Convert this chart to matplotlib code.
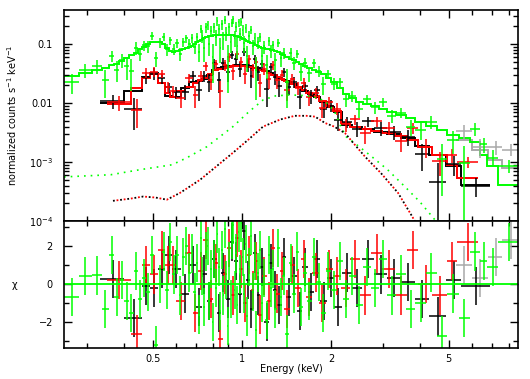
import matplotlib
matplotlib.use("Agg")
import matplotlib.pyplot as plt
import numpy as np

# ---- data (energies in keV) ----
black_edges = [0.33, 0.40, 0.46, 0.49, 0.52, 0.55, 0.58, 0.62, 0.66, 0.70,
               0.73, 0.76, 0.79, 0.82, 0.85, 0.88, 0.91, 0.94, 0.97, 1.00,
               1.03, 1.06, 1.09, 1.12, 1.15, 1.19, 1.23, 1.27, 1.31, 1.36,
               1.41, 1.47, 1.53, 1.60, 1.67, 1.75, 1.84, 1.94, 2.05, 2.18,
               2.35, 2.55, 2.80, 3.10, 3.45, 3.85, 4.3, 4.9, 5.5, 6.9]
black_model = [0.0100, 0.0160, 0.028, 0.033, 0.022, 0.013, 0.0125, 0.018, 0.023, 0.024,
               0.026, 0.030, 0.036, 0.039, 0.041, 0.042, 0.043, 0.044, 0.044, 0.044,
               0.043, 0.042, 0.040, 0.039, 0.037, 0.035, 0.032, 0.030, 0.027, 0.025,
               0.023, 0.021, 0.019, 0.016, 0.0145, 0.0125, 0.0103, 0.0085, 0.0072, 0.0042,
               0.0039, 0.0036, 0.0033, 0.0030, 0.0026, 0.0019, 0.0013, 0.00085, 0.00041]
black_chi = [0.28, -1.8, -0.1, -0.2, 0.8, 1.5, 0.8, -0.5, 1.0, -1.2,
             0.5, -0.9, 1.3, -1.5, 0.6, -0.8, 2.2, 1.2, -0.5, 2.8,
             0.2, -1.3, 1.6, -0.6, 0.9, -2.0, 1.1, -0.3, -1.1, 1.4,
             -0.7, 0.4, -1.4, 0.9, -0.4, 1.3, -0.9, 0.3, -1.2, 0.6,
             -0.2, 1.3, 0.5, 0.3, 0.1, -0.8, -1.7, 0.2, -0.1]
black_frac = [0.30, 0.28, 0.22, 0.22, 0.24, 0.28, 0.28, 0.25, 0.25, 0.25,
              0.25, 0.25, 0.25, 0.25, 0.25, 0.25, 0.25, 0.25, 0.25, 0.25,
              0.25, 0.25, 0.25, 0.25, 0.25, 0.25, 0.25, 0.25, 0.25, 0.25,
              0.24, 0.24, 0.24, 0.24, 0.24, 0.24, 0.24, 0.24, 0.24, 0.24,
              0.26, 0.28, 0.30, 0.30, 0.32, 0.35, 0.38, 0.40, 0.35]

red_edges = [0.35, 0.42, 0.46, 0.49, 0.52, 0.55, 0.57, 0.60, 0.64, 0.68,
             0.71, 0.74, 0.77, 0.80, 0.83, 0.86, 0.89, 0.92, 0.95, 0.98,
             1.01, 1.04, 1.07, 1.10, 1.13, 1.17, 1.21, 1.25, 1.29, 1.34,
             1.39, 1.45, 1.51, 1.58, 1.65, 1.73, 1.82, 1.92, 2.03, 2.16,
             2.32, 2.50, 2.72, 2.98, 3.28, 3.62, 3.95, 4.4, 4.95, 5.35, 6.3]
red_model = [0.0097, 0.018, 0.027, 0.031, 0.022, 0.015, 0.0128, 0.016, 0.019, 0.022,
             0.025, 0.027, 0.031, 0.036, 0.038, 0.040, 0.041, 0.042, 0.042, 0.042,
             0.042, 0.041, 0.040, 0.039, 0.037, 0.035, 0.033, 0.030, 0.028, 0.026,
             0.024, 0.021, 0.019, 0.017, 0.015, 0.013, 0.0108, 0.0088, 0.0074, 0.0046,
             0.0040, 0.0037, 0.0034, 0.0031, 0.0028, 0.0024, 0.0018, 0.0013, 0.0009, 0.00054]
red_chi = [0.2, -2.6, 1.0, 0.5, 1.8, 1.0, 1.0, -0.9, 1.6, -1.5,
           0.7, 2.3, -0.8, 1.1, -2.9, 0.5, 1.9, -0.6, 2.4, 0.8,
           -1.0, 1.5, -0.3, 1.2, -1.6, 0.4, -0.9, 1.9, -0.5, 0.7,
           -1.3, 1.0, -0.2, 1.3, -0.7, 0.6, -1.0, 0.8, 0.4, -0.2,
           1.3, -0.6, 1.6, 0.8, -0.6, 1.8, 0.0, -0.6, 1.2, 2.2]
red_frac = [0.30, 0.22, 0.22, 0.22, 0.24, 0.26, 0.26, 0.25, 0.25, 0.25,
            0.25, 0.25, 0.25, 0.25, 0.20, 0.25, 0.25, 0.25, 0.25, 0.25,
            0.25, 0.25, 0.25, 0.25, 0.25, 0.25, 0.25, 0.25, 0.25, 0.25,
            0.24, 0.24, 0.24, 0.24, 0.24, 0.24, 0.24, 0.24, 0.24, 0.24,
            0.26, 0.28, 0.28, 0.30, 0.30, 0.32, 0.35, 0.35, 0.40, 0.40]

green_edges = [0.25, 0.28, 0.31, 0.335, 0.355, 0.37, 0.385, 0.40, 0.415, 0.43,
               0.445, 0.46, 0.475, 0.49, 0.505, 0.52, 0.535, 0.55, 0.565, 0.58,
               0.595, 0.61, 0.625, 0.64, 0.655, 0.67, 0.685, 0.70, 0.71, 0.72,
               0.73, 0.74, 0.75, 0.76, 0.77, 0.78, 0.79, 0.80, 0.81, 0.82,
               0.83, 0.84, 0.85, 0.86, 0.87, 0.88, 0.89, 0.90, 0.91, 0.92,
               0.93, 0.94, 0.95, 0.96, 0.97, 0.98, 0.99, 1.00, 1.01, 1.02,
               1.035, 1.05, 1.065, 1.08, 1.095, 1.11, 1.125, 1.14, 1.16, 1.18,
               1.20, 1.22, 1.24, 1.26, 1.28, 1.31, 1.34, 1.37, 1.40, 1.44,
               1.48, 1.52, 1.56, 1.61, 1.66, 1.72, 1.78, 1.85, 1.92, 2.00,
               2.09, 2.19, 2.30, 2.42, 2.56, 2.72, 2.90, 3.10, 3.33, 3.58,
               3.86, 4.18, 4.55, 4.95, 5.4, 5.9, 6.4, 6.75, 7.35, 8.6]
green_model = [0.029, 0.033, 0.037, 0.040, 0.044, 0.047, 0.051, 0.058, 0.065, 0.072,
               0.082, 0.090, 0.100, 0.108, 0.111, 0.108, 0.100, 0.088, 0.078, 0.075,
               0.078, 0.080, 0.083, 0.087, 0.090, 0.094, 0.100, 0.108, 0.115, 0.120,
               0.125, 0.128, 0.131, 0.134, 0.136, 0.138, 0.140, 0.141, 0.142, 0.143,
               0.144, 0.144, 0.145, 0.145, 0.145, 0.145, 0.144, 0.144, 0.143, 0.142,
               0.141, 0.140, 0.138, 0.136, 0.134, 0.131, 0.128, 0.125, 0.122, 0.119,
               0.115, 0.111, 0.107, 0.103, 0.099, 0.096, 0.093, 0.090, 0.087, 0.085,
               0.083, 0.082, 0.081, 0.080, 0.077, 0.073, 0.069, 0.065, 0.061, 0.057,
               0.054, 0.050, 0.046, 0.043, 0.040, 0.037, 0.034, 0.031, 0.027, 0.023,
               0.018, 0.0145, 0.0122, 0.0105, 0.0097, 0.0090, 0.0080, 0.0071, 0.0062, 0.0055,
               0.0047, 0.0041, 0.0035, 0.0029, 0.0026, 0.0022, 0.0013, 0.00085, 0.00041]
green_chi = [-0.7, 0.4, 0.45, -1.3, 1.5, -0.7, 0.2, -0.9, -1.5, 0.7,
             -0.8, 0.3, -0.4, 1.5, -3.2, 0.0, 1.7, -0.3, 2.2, 0.5,
             1.5, -0.6, 1.4, 2.0, 0.6, 1.6, -0.4, 1.1, -1.6, 2.4,
             0.4, -1.2, 1.7, 2.0, -0.9, 0.8, -2.0, 1.3, -0.2, 2.6,
             0.9, -1.4, 1.8, -0.6, 2.9, 0.2, -2.2, 1.2, -0.8, 2.3,
             3.1, -0.3, 1.6, -1.1, 2.7, 0.5, 3.2, 1.4, -0.5, 2.1,
             -1.7, 0.9, 2.5, -0.4, 1.2, -2.4, 0.6, 1.8, -1.0, 0.3,
             -1.9, 1.5, -0.2, 0.8, -1.3, 1.9, -0.7, 0.4, -2.6, 1.1,
             -0.5, 1.7, -1.2, 0.6, -0.9, 1.4, 0.1, -1.5, 0.7, -0.3,
             1.2, -0.8, 0.4, -1.1, 0.9, -0.2, 1.3, -0.6, 0.5, -1.3,
             -1.0, 0.6, -2.7, -0.5, -1.8, 1.7, 1.2, 0.9, 2.2]
green_frac = [0.30, 0.30, 0.30, 0.30, 0.30, 0.30, 0.30, 0.30, 0.30, 0.30,
              0.20, 0.20, 0.20, 0.20, 0.15, 0.20, 0.20, 0.22, 0.22, 0.22,
              0.22, 0.22, 0.22, 0.22, 0.22, 0.22, 0.22, 0.22, 0.22, 0.22,
              0.28, 0.28, 0.28, 0.28, 0.28, 0.28, 0.28, 0.28, 0.28, 0.28,
              0.28, 0.28, 0.28, 0.28, 0.28, 0.28, 0.28, 0.28, 0.28, 0.28,
              0.28, 0.28, 0.28, 0.28, 0.28, 0.28, 0.28, 0.28, 0.28, 0.28,
              0.26, 0.26, 0.26, 0.26, 0.26, 0.26, 0.26, 0.26, 0.26, 0.26,
              0.24, 0.24, 0.24, 0.24, 0.24, 0.24, 0.24, 0.24, 0.24, 0.24,
              0.22, 0.22, 0.22, 0.22, 0.22, 0.22, 0.22, 0.22, 0.22, 0.22,
              0.22, 0.22, 0.22, 0.22, 0.22, 0.22, 0.22, 0.22, 0.22, 0.22,
              0.25, 0.28, 0.25, 0.35, 0.35, 0.40, 0.45, 0.45, 0.50]

grey_edges = [5.3, 6.0, 6.8, 7.6, 8.6]
grey_model = [0.0024, 0.0016, 0.0011, 0.0008]
grey_chi = [1.0, 0.3, 1.4, 2.3]
grey_frac = [0.40, 0.40, 0.45, 0.45]

# dotted model components
green_comp_e = [0.25, 0.36, 0.45, 0.58, 0.65, 0.76, 0.93, 1.05, 1.18, 1.30, 1.45, 1.60,
                1.75, 1.90, 2.05, 2.15, 2.25, 2.50, 2.75, 3.10, 3.56, 4.0, 4.39, 4.8]
green_comp = [5.6e-4, 6.1e-4, 7.4e-4, 9.0e-4, 1.18e-3, 1.82e-3, 3.97e-3, 7.0e-3, 1.14e-2,
              1.33e-2, 1.38e-2, 1.35e-2, 1.28e-2, 1.10e-2, 7.5e-3, 4.2e-3, 2.7e-3, 1.8e-3,
              1.23e-3, 7.5e-4, 3.8e-4, 2.1e-4, 1.2e-4, 7e-5]
bkrd_comp_e = [0.366, 0.42, 0.463, 0.51, 0.557, 0.617, 0.721, 0.82, 0.932, 1.05, 1.178,
               1.35, 1.51, 1.65, 1.766, 1.91, 2.05, 2.23, 2.40, 2.605, 2.95, 3.37, 3.76, 4.0]
bkrd_comp = [2.2e-4, 2.4e-4, 2.6e-4, 2.5e-4, 2.3e-4, 3.0e-4, 5.0e-4, 8.5e-4, 1.44e-3,
             2.4e-3, 4.0e-3, 5.3e-3, 6.1e-3, 6.1e-3, 5.9e-3, 4.6e-3, 4.0e-3, 3.1e-3,
             2.0e-3, 1.24e-3, 6.5e-4, 3.0e-4, 1.2e-4, 7e-5]

plt.rcParams['font.family'] = 'DejaVu Sans'
plt.rcParams['font.size'] = 7

fig = plt.figure(figsize=(5.30, 3.79), dpi=100)
ax1 = fig.add_axes([0.1208, 0.4169, 0.8566, 0.5567])
ax2 = fig.add_axes([0.1208, 0.0818, 0.8566, 0.3351], sharex=ax1)


def draw_set(edges, model, chi, frac, color):
    edges = np.array(edges)
    model = np.array(model)
    chi = np.array(chi)
    frac = np.array(frac)
    lo, hi = edges[:-1], edges[1:]
    cen = 0.5 * (lo + hi)
    err = model * frac
    data = model + chi * err
    low = np.where(data - err > 1e-6, err, data - 1e-6)
    ax1.errorbar(cen, data, xerr=[cen - lo, hi - cen], yerr=[low, err],
                 fmt='none', ecolor=color, elinewidth=1.1, capsize=0)
    ax1.stairs(model, edges, baseline=None, color=color, lw=1.4)
    ax2.errorbar(cen, chi, xerr=[cen - lo, hi - cen], yerr=1.0,
                 fmt='none', ecolor=color, elinewidth=1.1, capsize=0)


draw_set(grey_edges, grey_model, grey_chi, grey_frac, '#a8a8a8')
draw_set(black_edges, black_model, black_chi, black_frac, 'black')
draw_set(red_edges, red_model, red_chi, red_frac, '#ff0000')
draw_set(green_edges, green_model, green_chi, green_frac, '#00ff00')

ax1.plot(green_comp_e, green_comp, color='#00ff00', lw=1.2, ls=(0, (1, 3)))
ax1.plot(bkrd_comp_e, bkrd_comp, color='black', lw=1.3, ls=(0, (1, 3)))
ax1.plot(bkrd_comp_e, bkrd_comp, color='#ff0000', lw=1.3, ls=(2, (1, 3)))

ax2.axhline(0, color='#00ff00', lw=1.3)

ax1.set_xscale('log')
ax1.set_yscale('log')
ax1.set_xlim(0.25, 8.58)
ax1.set_ylim(1e-4, 0.381)
ax2.set_ylim(-3.35, 3.3)

ax1.set_xticks([0.5, 1, 2, 5])
ax1.set_xticks([0.3, 0.4, 0.6, 0.7, 0.8, 0.9, 3, 4, 6, 7, 8], minor=True)
ax2.set_xticklabels(['0.5', '1', '2', '5'])
ax2.set_xticklabels([], minor=True)
ax1.tick_params(labelbottom=False)

ax1.set_yticks([1e-4, 1e-3, 1e-2, 1e-1])
ax1.set_yticklabels(['10$^{-4}$', '10$^{-3}$', '0.01', '0.1'])
ax2.set_yticks([-2, 0, 2])
ax2.set_yticklabels(['\u22122', '0', '2'])
ax2.set_yticks([-3, -1, 1, 3], minor=True)

for ax in (ax1, ax2):
    ax.tick_params(which='both', direction='in', top=True, right=True, width=1.0)
    ax.tick_params(which='major', length=6)
    ax.tick_params(which='minor', length=3.5)
    ax.tick_params(axis='y', pad=8)
    ax.tick_params(axis='x', pad=4)
    for s in ax.spines.values():
        s.set_linewidth(1.2)

fig.text(12 / 530, 1 - 115 / 379, 'normalized counts s$^{-1}$ keV$^{-1}$',
         rotation=90, ha='center', va='center')
fig.text(15 / 530, 1 - 285 / 379, '\u03c7', ha='center', va='center')
fig.text(291 / 530, 1 - 369 / 379, 'Energy (keV)', ha='center', va='center')

fig.savefig('out.png', dpi=100)
